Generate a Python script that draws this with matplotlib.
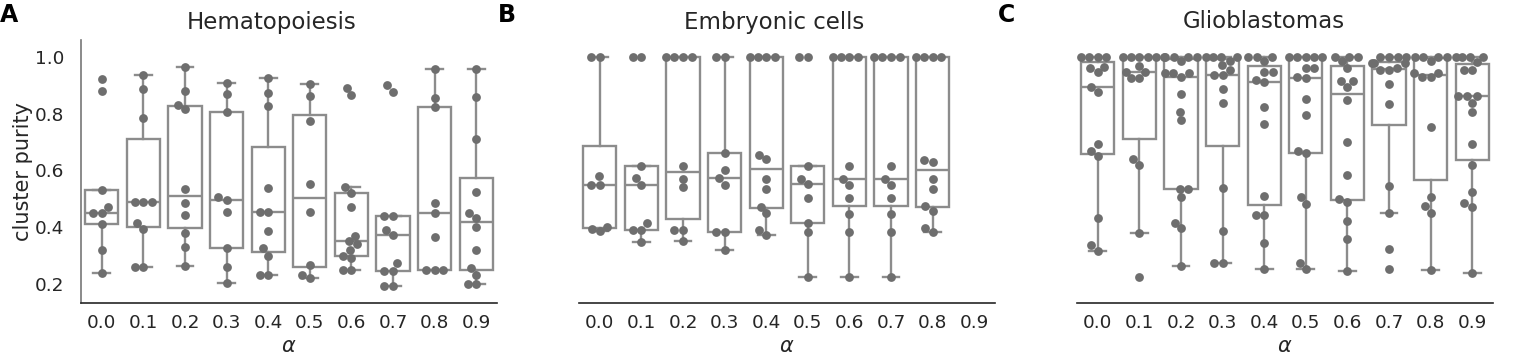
import numpy as np
import matplotlib
matplotlib.use("Agg")
import matplotlib.pyplot as plt

# valeurs (pureté des clusters par alpha)
alphas = ["0.0", "0.1", "0.2", "0.3", "0.4", "0.5", "0.6", "0.7", "0.8", "0.9"]

hematopoiesis = [
    [0.92, 0.88, 0.53, 0.47, 0.45, 0.45, 0.41, 0.32, 0.24],
    [0.936, 0.886, 0.783, 0.49, 0.49, 0.49, 0.414, 0.394, 0.259, 0.259],
    [0.965, 0.88, 0.83, 0.815, 0.533, 0.486, 0.442, 0.381, 0.331, 0.264],
    [0.907, 0.869, 0.807, 0.505, 0.497, 0.455, 0.325, 0.259, 0.202],
    [0.925, 0.874, 0.825, 0.537, 0.455, 0.455, 0.385, 0.325, 0.30, 0.232, 0.232],
    [0.904, 0.861, 0.775, 0.552, 0.455, 0.267, 0.232, 0.22],
    [0.89, 0.865, 0.54, 0.52, 0.47, 0.37, 0.35, 0.34, 0.32, 0.30, 0.29, 0.25, 0.25],
    [0.899, 0.876, 0.439, 0.439, 0.39, 0.373, 0.273, 0.247, 0.247, 0.193, 0.193],
    [0.956, 0.855, 0.823, 0.484, 0.451, 0.367, 0.249, 0.249, 0.249],
    [0.956, 0.858, 0.711, 0.525, 0.449, 0.433, 0.402, 0.32, 0.255, 0.232, 0.20, 0.20],
]

embryonic = [
    [1.0, 1.0, 0.579, 0.549, 0.549, 0.40, 0.395, 0.385],
    [1.0, 1.0, 0.617, 0.573, 0.549, 0.414, 0.39, 0.39, 0.349],
    [1.0, 1.0, 1.0, 1.0, 0.617, 0.571, 0.54, 0.39, 0.39, 0.353],
    [1.0, 1.0, 0.66, 0.60, 0.573, 0.549, 0.384, 0.384, 0.32],
    [1.0, 1.0, 1.0, 1.0, 0.654, 0.639, 0.571, 0.533, 0.472, 0.449, 0.39, 0.373],
    [1.0, 1.0, 0.615, 0.569, 0.552, 0.502, 0.416, 0.384, 0.226],
    [1.0, 1.0, 1.0, 1.0, 0.615, 0.569, 0.549, 0.502, 0.446, 0.382, 0.226],
    [1.0, 1.0, 1.0, 1.0, 0.615, 0.569, 0.549, 0.502, 0.446, 0.382, 0.226],
    [1.0, 1.0, 1.0, 1.0, 0.637, 0.63, 0.571, 0.533, 0.474, 0.457, 0.397, 0.384],
    [],
]

glioblastoma = [
    [1.0, 1.0, 1.0, 1.0, 0.965, 0.96, 0.945, 0.895, 0.877, 0.693, 0.669, 0.649, 0.431, 0.337, 0.317],
    [1.0, 1.0, 1.0, 1.0, 1.0, 0.967, 0.948, 0.946, 0.924, 0.924, 0.64, 0.62, 0.381, 0.223],
    [1.0, 1.0, 1.0, 1.0, 1.0, 0.985, 0.943, 0.943, 0.943, 0.93, 0.868, 0.807, 0.777,
     0.535, 0.535, 0.505, 0.416, 0.396, 0.264],
    [1.0, 1.0, 1.0, 1.0, 0.984, 0.97, 0.953, 0.935, 0.935, 0.886, 0.836, 0.537, 0.388, 0.275, 0.275],
    [1.0, 1.0, 1.0, 0.985, 0.948, 0.948, 0.918, 0.912, 0.824, 0.763, 0.511, 0.443, 0.443, 0.345, 0.252],
    [1.0, 1.0, 1.0, 1.0, 1.0, 0.96, 0.96, 0.93, 0.924, 0.85, 0.795, 0.669, 0.66, 0.507, 0.482, 0.273, 0.252],
    [1.0, 1.0, 1.0, 0.984, 0.96, 0.915, 0.915, 0.893, 0.848, 0.701, 0.584, 0.498, 0.49, 0.423, 0.357, 0.247],
    [1.0, 1.0, 1.0, 1.0, 0.977, 0.977, 0.977, 0.96, 0.955, 0.955, 0.903, 0.833, 0.546, 0.449, 0.322, 0.252],
    [1.0, 1.0, 1.0, 1.0, 0.985, 0.942, 0.942, 0.928, 0.928, 0.752, 0.505, 0.475, 0.451, 0.25],
    [1.0, 1.0, 1.0, 1.0, 0.98, 0.954, 0.954, 0.862, 0.862, 0.862, 0.838, 0.804, 0.693, 0.62,
     0.525, 0.484, 0.472, 0.24],
]

panels = [("A", "Hematopoiesis", hematopoiesis),
          ("B", "Embryonic cells", embryonic),
          ("C", "Glioblastomas", glioblastoma)]

TEXT = "#262626"
BOX = "#8c8c8c"
DOT = "#6e6e6e"
W, H = 1515, 360


# positions type "swarm" : décalages horizontaux en pixels
def swarm_offsets(y_px, d, max_off):
    placed = []
    offsets = np.zeros(len(y_px))
    order = np.argsort(y_px)
    for i in order:
        y = y_px[i]
        cands = [0.0]
        for (px, py) in placed:
            dy = abs(py - y)
            if dy < d:
                dx = np.sqrt(d * d - dy * dy)
                cands += [px - dx, px + dx]
        cands = sorted(cands, key=lambda c: (abs(c), c))
        best = cands[-1]
        for c in cands:
            if all((c - px) ** 2 + (y - py) ** 2 >= d * d - 1e-6 for (px, py) in placed):
                best = c
                break
        best = max(-max_off, min(max_off, best))
        placed.append((best, y))
        offsets[i] = best
    return offsets


fig = plt.figure(figsize=(W / 100, H / 100), dpi=100)

lefts = [81, 579, 1077]
titles_x = [0.458, 0.47, 0.448]
letters_x = [0, 498, 998]

for k, (letter, title, data) in enumerate(panels):
    ax = fig.add_axes([lefts[k] / W, (H - 303) / H, 416 / W, 263 / H])
    ax.set_xlim(-0.5, 9.5)
    ax.set_ylim(0.133, 1.059)

    pos = [i for i, v in enumerate(data) if len(v) > 0]
    vals = [data[i] for i in pos]
    ax.boxplot(vals, positions=pos, widths=0.8, showfliers=False, patch_artist=True,
               boxprops=dict(facecolor="white", edgecolor=BOX, linewidth=1.7),
               medianprops=dict(color=BOX, linewidth=1.7),
               whiskerprops=dict(color=BOX, linewidth=1.7),
               capprops=dict(color=BOX, linewidth=1.7), zorder=2)

    # points par dessus les boîtes
    x_scale = ax.transData.transform((1, 0))[0] - ax.transData.transform((0, 0))[0]
    for i in pos:
        y = np.array(data[i])
        y_px = ax.transData.transform(np.column_stack([np.zeros(len(y)), y]))[:, 1]
        off = swarm_offsets(y_px, 8.6, 0.4 * x_scale)
        ax.scatter(i + off / x_scale, y, s=40, color=DOT, linewidths=0, zorder=3)

    ax.set_xticks(range(len(alphas)))
    ax.set_xticklabels(alphas)
    ax.tick_params(axis="x", length=0, pad=8, labelsize=13.3, labelcolor=TEXT)
    ax.set_xlabel(r"$\alpha$", fontsize=15, color=TEXT, labelpad=3)

    for side in ["top", "right"]:
        ax.spines[side].set_visible(False)
    ax.spines["bottom"].set_color(TEXT)
    ax.spines["bottom"].set_linewidth(1.2)

    if k == 0:
        ax.set_yticks([0.2, 0.4, 0.6, 0.8, 1.0])
        ax.set_yticklabels(["0.2", "0.4", "0.6", "0.8", "1.0"])
        ax.tick_params(axis="y", length=0, pad=12, labelsize=13.3, labelcolor=TEXT)
        ax.set_ylabel("cluster purity", fontsize=15, color=TEXT, labelpad=1)
        ax.spines["left"].set_color("#777777")
        ax.spines["left"].set_linewidth(1.2)
    else:
        ax.set_yticks([])
        ax.spines["left"].set_visible(False)

    ax.text(titles_x[k], 1 + 11.5 / 263, title, transform=ax.transAxes,
            ha="center", va="baseline", fontsize=16.5, color=TEXT)
    fig.text(letters_x[k] / W, 1 - 21.5 / H, letter, ha="left", va="baseline",
             fontsize=17, fontweight="bold", color="black")

fig.savefig("out.png", dpi=100, facecolor="white")
